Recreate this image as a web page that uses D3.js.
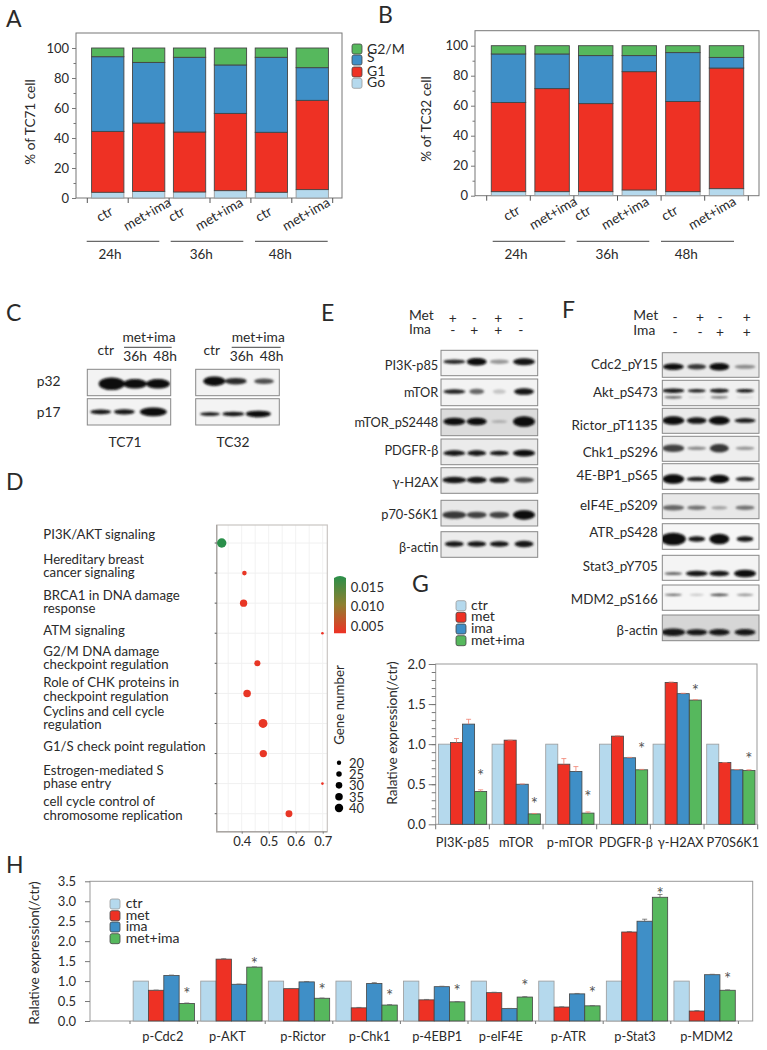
<!DOCTYPE html>
<html><head><meta charset="utf-8">
<style>
html,body{margin:0;padding:0;background:#fff}
svg{display:block}
text{font-family:"Lato",sans-serif;fill:#2a2a2a}
.domain{display:none}
.tick line{stroke:#777;stroke-width:1}
.tick text{font-family:"Lato",sans-serif}
</style>
<script src="https://cdnjs.cloudflare.com/ajax/libs/d3/7.8.5/d3.min.js"></script>
</head><body><div id="c"></div>
<script>
// ---------- DATA ----------
const phases = ["Go","G1","S","G2/M"];
const stackCats = ["ctr","met+ima","ctr","met+ima","ctr","met+ima"];
const hours = ["24h","36h","48h"];
const tc71Go  = [3.8,4.4,4.0,4.9,3.8,5.6];
const tc71G1  = [40.6,45.6,40.0,51.5,40.0,59.5];
const tc71S   = [49.8,40.4,49.8,32.3,50.0,21.8];
const tc71G2M = [5.8,9.6,6.2,11.3,6.2,13.1];
const tc32Go  = [2.7,2.7,2.7,3.8,2.7,4.7];
const tc32G1  = [59.4,68.7,58.7,78.9,60.1,80.4];
const tc32S   = [32.4,23.1,32.0,10.7,32.6,7.1];
const tc32G2M = [5.5,5.5,6.6,6.6,4.6,7.8];

const treatments = ["ctr","met","ima","met+ima"];
const gCats = ["PI3K-p85","mTOR","p-mTOR","PDGFR-β","γ-H2AX","P70S6K1"];
const gCtr = [1,1,1,1,1,1];
const gMet = [1.02,1.05,0.75,1.10,1.77,0.77];
const gIma = [1.25,0.50,0.66,0.83,1.63,0.68];
const gCombo = [0.41,0.13,0.14,0.68,1.55,0.67];
const gErrMet = [0.05,0,0.07,0.005,0.005,0];
const gErrIma = [0.06,0.003,0.06,0.005,0.005,0.003];
const gErrCombo = [0.02,0.005,0.015,0.005,0.005,0.01];
const gStar = [0.636,0.295,0.378,0.973,1.70,0.856];

const hCats = ["p-Cdc2","p-AKT","p-Rictor","p-Chk1","p-4EBP1","p-eIF4E","p-ATR","p-Stat3","p-MDM2"];
const hCtr = [1,1,1,1,1,1,1,1,1];
const hMet = [0.77,1.55,0.81,0.33,0.53,0.71,0.35,2.23,0.25];
const hIma = [1.14,0.92,0.98,0.94,0.86,0.31,0.68,2.50,1.16];
const hCombo = [0.44,1.35,0.57,0.40,0.48,0.60,0.38,3.10,0.77];
const hErrMet = [0.005,0.01,0.005,0.01,0.01,0.01,0.005,0.01,0.01];
const hErrIma = [0.01,0.005,0.01,0.02,0.01,0.005,0.01,0.05,0.01];
const hErrCombo = [0.01,0.005,0.005,0.01,0.005,0.01,0.005,0.07,0.01];
const hStar = [0.75,1.51,0.86,0.71,0.825,0.95,0.77,3.26,1.13];

const pathways = ["PI3K/AKT signaling","Hereditary breast cancer signaling","BRCA1 in DNA damage response","ATM signaling","G2/M DNA damage checkpoint regulation","Role of CHK proteins in checkpoint regulation","Cyclins and cell cycle regulation","G1/S check point regulation","Estrogen-mediated S phase entry","cell cycle control of chromosome replication"];
const pathwayLines = [["PI3K/AKT signaling"],["Hereditary breast","cancer signaling"],["BRCA1 in DNA damage","response"],["ATM signaling"],["G2/M DNA damage","checkpoint regulation"],["Role of CHK proteins in","checkpoint regulation"],["Cyclins and cell cycle","regulation"],["G1/S check point regulation"],["Estrogen-mediated S","phase entry"],["cell cycle control of","chromosome replication"]];
const ratio = [0.326,0.41,0.407,0.699,0.458,0.42,0.479,0.48,0.699,0.575];
const geneN = [43,20,32,13,26,33,40,32,13,30];
const pvals = [0.0175,0.0035,0.0035,0.003,0.0035,0.0035,0.0035,0.0035,0.003,0.0035];
const geneLegend = [20,25,30,35,40];
const pLegend = [0.015,0.010,0.005];

// Blots: darkness, thickness (px), width (px) per lane
const eLabels = ["PI3K-p85","mTOR","mTOR_pS2448","PDGFR-β","γ-H2AX","p70-S6K1","β-actin"];
const eDark = [[.85,1,.4,.95],[.9,.6,.2,.95],[1,1,.3,1],[.95,.95,.95,1],[.95,.95,.9,.7],[.8,.75,.75,1],[.95,.95,.95,.95]];
const eThick = [[4,7,4,6.5],[4,5,4,6],[7,7,2.5,10],[5,5,4,6],[6,6,5.5,5],[7,6,6,9],[5,5,5,6]];
const eWide = [[20,18,17,20],[20,13,11,18],[20,18,14,20],[20,17,17,20],[22,18,18,18],[22,18,18,20],[17,17,17,17]];
const fLabels = ["Cdc2_pY15","Akt_pS473","Rictor_pT1135","Chk1_pS296","4E-BP1_pS65","eIF4E_pS209","ATR_pS428","Stat3_pY705","MDM2_pS166","β-actin"];
const fDark = [[1,.8,1,.45],[.95,.9,.9,.95],[1,.95,1,.95],[.75,.45,.8,.4],[1,.9,1,.85],[.6,.55,.35,.55],[1,.95,1,.95],[.6,.95,.95,1],[.6,.2,.7,.4],[.95,.95,.95,.95]];
const fThick = [[6,5,7,3.5],[4,3,4,3],[8,6,8,4],[7,3,8,3],[9,4,8,4],[5,4,3,4],[12,5,10,5],[2.5,5,5,7],[1.5,1.5,2,2],[7,5.5,6,6]];
const fWide = [[19,17,18,19],[20,16,17,16],[20,18,19,19],[20,17,17,17],[20,18,18,17],[20,17,14,17],[23,15,18,15],[16,20,18,20],[15,12,17,15],[22,19,19,19]];
const aktLower = [.6,.1,.5,.1];
const metMarksE = ["+","-","+","-"], imaMarksE = ["-","+","+","-"];
const metMarksF = ["-","+","-","+"], imaMarksF = ["-","-","+","+"];

// ---------- STYLE ----------
const colGo="#b5d9ed", colG1="#ee3124", colS="#3f8fc7", colG2="#56b85d";
const treatColors=[colGo,colG1,colS,colG2];
const strokeFor=c=>c===colGo?"#999":"#444";
const F=13.8, FT=13, FY=13.6;

const svg=d3.select("#c").append("svg").attr("width",767).attr("height",1050);
const defs=svg.append("defs");
defs.append("filter").attr("id","blur").attr("x","-30%").attr("y","-100%").attr("width","160%").attr("height","300%")
  .append("feGaussianBlur").attr("stdDeviation",0.9);

function txt(x,y,s,opt={}){
  const t=svg.append("text").attr("x",x).attr("y",y).text(s)
    .attr("font-size",opt.fs||F).attr("text-anchor",opt.anchor||"start");
  if(opt.rot!==undefined) t.attr("transform",`rotate(${opt.rot} ${x} ${y})`);
  return t;
}
// panel letters
[["A",6,27],["B",378,23],["C",6,321],["D",6,490],["E",321,321],["F",562,318],["G",412,592],["H",6,873]]
 .forEach(d=>txt(d[1],d[2],d[0],{fs:23}));

function yAxes(g,y,x0,major,minor,fmt,tl,tlm,pad,fs){
  g.append("g").attr("transform",`translate(${x0},0)`)
   .call(d3.axisLeft(y).tickValues(minor).tickSize(tlm).tickFormat(""));
  g.append("g").attr("transform",`translate(${x0},0)`)
   .call(d3.axisLeft(y).tickValues(major).tickSize(tl).tickPadding(pad).tickFormat(fmt))
   .selectAll("text").attr("font-size",fs).style("fill","#2a2a2a");
}

// ---------- STACKED PANELS ----------
function stacked(cfg){
  const g=svg.append("g");
  const rows=stackCats.map((c,i)=>({i,Go:cfg.vals[0][i],G1:cfg.vals[1][i],S:cfg.vals[2][i],"G2/M":cfg.vals[3][i]}));
  const series=d3.stack().keys(phases)(rows);
  const x=d3.scaleBand().domain(d3.range(stackCats.length)).range(cfg.xr).paddingInner(.21).paddingOuter(.105);
  const y=d3.scaleLinear().domain([0,110]).range([cfg.y0,cfg.yTop]);
  const col=d3.scaleOrdinal(phases,treatColors);
  g.append("rect").attr("x",cfg.fx[0]).attr("y",cfg.yTop).attr("width",cfg.fx[1]-cfg.fx[0]).attr("height",cfg.y0-cfg.yTop)
    .attr("fill","none").attr("stroke","#777").attr("stroke-width",1);
  yAxes(g,y,cfg.fx[0],d3.range(0,101,20),d3.range(10,100,20),d3.format("d"),4,2.5,3,FT);
  g.selectAll("g.s").data(series).join("g").attr("class","s")
   .attr("fill",d=>col(d.key)).attr("stroke",d=>strokeFor(col(d.key)))
   .selectAll("rect").data(d=>d).join("rect")
   .attr("x",d=>x(d.data.i)).attr("width",x.bandwidth())
   .attr("y",d=>y(d[1])).attr("height",d=>y(d[0])-y(d[1])).attr("stroke-width",.9);
  const step=x.step();
  const edges=d3.range(stackCats.length+1).map(i=>cfg.xr[0]+i*step);
  g.selectAll("line.tk").data(edges).join("line").attr("class","tk")
   .attr("x1",d=>d).attr("x2",d=>d).attr("y1",cfg.y0).attr("y2",cfg.y0+5).attr("stroke","#555");
  stackCats.forEach((c,i)=>{
    const p=cfg.catEnds[i];
    txt(p[0],p[1],c,{anchor:"end",rot:-30,fs:13.6});
  });
  hours.forEach((h,i)=>{
    const r=cfg.groupLines[i];
    g.append("line").attr("x1",r[0]).attr("x2",r[1]).attr("y1",241.3).attr("y2",241.3).attr("stroke","#444");
    txt(cfg.hourX[i],259,h,{anchor:"middle",fs:13.5});
  });
  txt(cfg.titleX,cfg.titleY,cfg.title,{anchor:"middle",rot:-90,fs:FY});
}
stacked({vals:[tc71Go,tc71G1,tc71S,tc71G2M],xr:[87.3,332.7],fx:[76,342],y0:198,yTop:33,title:"% of TC71 cell",titleX:35,titleY:122,
  catEnds:[[114,214],[172,205],[186,214],[244,205],[273,214],[331,205]],
  groupLines:[[86.7,159.3],[170.7,243.3],[255,327.7]],hourX:[110,201.3,280.3]});
stacked({vals:[tc32Go,tc32G1,tc32S,tc32G2M],xr:[486.7,748.3],fx:[475,759],y0:195.7,yTop:30.7,title:"% of TC32 cell",titleX:431,titleY:119,
  catEnds:[[521,213],[578,204],[592,213],[650,204],[679,213],[737,204]],
  groupLines:[[492.7,565.3],[576.7,649.3],[661,734]],hourX:[516,607,686.3]});

// phase legend
function legend(items,cols,sx,ys,tx,tys,fs){
  const g=svg.append("g");
  g.selectAll("rect").data(items).join("rect")
   .attr("x",sx).attr("y",(d,i)=>ys[i]-5).attr("width",10).attr("height",10).attr("rx",2)
   .attr("fill",(d,i)=>cols[i]).attr("stroke",(d,i)=>strokeFor(cols[i])).attr("stroke-width",.8);
  items.forEach((d,i)=>txt(tx,tys[i],d,{fs}));
}
legend(["G2/M","S","G1","Go"],[colG2,colS,colG1,colGo],352,[49,60,72,83.3],367,[53.5,62,75.5,87],14);

// ---------- BLOTS ----------
const bandCol=d3.scaleLinear().domain([0,1]).range(["#f4f4f4","#080808"]);
function blot(box,lanes,dark,thick,wide,yRel,bg){
  const g=svg.append("g");
  const clip="c"+Math.round(box[0])+"_"+Math.round(box[2]*10);
  defs.append("clipPath").attr("id",clip).append("rect").attr("x",box[0]).attr("y",box[2]).attr("width",box[1]-box[0]).attr("height",box[3]-box[2]);
  g.append("rect").attr("x",box[0]).attr("y",box[2]).attr("width",box[1]-box[0]).attr("height",box[3]-box[2])
    .attr("fill",bg||"#f3f3f3");
  const inner=g.append("g").attr("clip-path",`url(#${clip})`).attr("filter","url(#blur)");
  inner.selectAll("ellipse").data(dark).join("ellipse")
    .attr("cx",(d,i)=>lanes[i]).attr("cy",box[2]+(box[3]-box[2])*yRel)
    .attr("rx",(d,i)=>wide[i]/2+1).attr("ry",(d,i)=>thick[i]/2+.3).attr("fill",d=>bandCol(d));
  g.append("rect").attr("x",box[0]).attr("y",box[2]).attr("width",box[1]-box[0]).attr("height",box[3]-box[2])
    .attr("fill","none").attr("stroke","#888").attr("stroke-width",1);
}
// C
const cLanesA=[111.7,135,158], cLanesA2=[100.7,124.3,153.3], cLanesB=[214.3,235.7,264], cLanesB2=[210,233.3,258.3];
blot([87.3,170.7,369.3,395.7],cLanesA,[1,1,1],[12,9,9],[24,22,22],.55);
blot([87.3,170.7,398.7,425],cLanesA2,[.95,.95,1],[4,4.5,8],[19,19,25],.5);
blot([195.7,279.3,369.3,395.7],cLanesB,[1,.85,.7],[9,6,5],[20,20,18],.45);
blot([195.7,279.3,398.7,425],cLanesB2,[.95,.95,1],[3,4,6],[18,20,23],.58);
txt(36.7,386,"p32"); txt(36.7,417.3,"p17");
txt(149,341.7,"met+ima",{anchor:"middle"}); txt(258.3,341.7,"met+ima",{anchor:"middle"});
txt(135,361,"36h",{anchor:"middle"}); txt(165,361,"48h",{anchor:"middle"});
txt(241.7,361,"36h",{anchor:"middle"}); txt(271.7,361,"48h",{anchor:"middle"});
txt(105.7,355,"ctr",{anchor:"middle"}); txt(211.7,355,"ctr",{anchor:"middle"});
txt(125,447.3,"TC71",{anchor:"middle"}); txt(233,447.3,"TC32",{anchor:"middle"});
[[124,171.7],[231.7,280.7]].forEach(r=>svg.append("line").attr("x1",r[0]).attr("x2",r[1]).attr("y1",347.3).attr("y2",347.3).attr("stroke","#444"));
// E
const eLanes=[454.3,476.7,499.3,524];
const eBoxes=[[350.3,375.7],[379,405.7],[409,435.7],[439,464.7],[467.7,493.3],[500.3,526],[531.7,557.3]];
const eY=[.45,.47,.47,.55,.48,.57,.48], eBase=[370,397.3,427.3,455,486.7,519.3,551.7], eBg=[null,null,"#dcdcdc","#ebebeb","#ececec","#e8e8e8","#ececec"];
eLabels.forEach((l,i)=>{
  blot([441,537.7,eBoxes[i][0],eBoxes[i][1]],eLanes,eDark[i],eThick[i],eWide[i],eY[i],eBg[i]);
  txt(438.3,eBase[i],l,{anchor:"end",fs:12.8});
});
txt(409,320,"Met"); txt(409,334,"Ima");
const eM=[452.7,474.3,498.3,520.7];
metMarksE.forEach((m,i)=>txt(eM[i],323,m,{anchor:"middle"}));
imaMarksE.forEach((m,i)=>txt(eM[i],335,m,{anchor:"middle"}));
// F
const fLanes=[673.3,696.7,719.3,745];
const fBoxes=[[352.7,377.3],[380.3,405.7],[408.3,433.3],[436.3,461.3],[463.7,489.3],[493.7,518.7],[523.7,549.3],[555.3,580.3],[585,610.3],[615,640.7]];
const fY=[.57,.41,.49,.48,.6,.56,.6,.73,.39,.67], fBase=[369.3,397,430,457.3,480,510,536.7,570.7,604,635], fBg=["#eaeaea","#f0f0f0","#eaeaea","#eeeeee","#f4f4f4","#e8e8e8","#f6f6f6","#f4f4f4","#f6f6f6","#d6d6d6"];
fLabels.forEach((l,i)=>{
  blot([662.3,759,fBoxes[i][0],fBoxes[i][1]],fLanes,fDark[i],fThick[i],fWide[i],fY[i],fBg[i]);
  txt(657.7,fBase[i],l,{anchor:"end",fs:13.4});
});
// Akt lower band
svg.append("g").attr("filter","url(#blur)").selectAll("ellipse").data(aktLower).join("ellipse")
  .attr("cx",(d,i)=>fLanes[i]).attr("cy",397.3).attr("rx",9).attr("ry",1.4).attr("fill",d=>bandCol(d));
txt(633.3,320,"Met"); txt(633.3,335,"Ima");
const fM=[675,700,720,746.7];
metMarksF.forEach((m,i)=>txt(fM[i],322,m,{anchor:"middle"}));
imaMarksF.forEach((m,i)=>txt(fM[i],337,m,{anchor:"middle"}));

// ---------- DOT PLOT ----------
(function(){
  const g=svg.append("g");
  const x=d3.scaleLinear().domain([0.3074,0.717]).range([216.7,327.3]);
  const y=d3.scalePoint().domain(pathways).range([543,813.7]);
  const r=d3.scaleSqrt().domain([13,43]).range([1.3,4.7]);
  const cs=d3.scaleLinear().domain([0.003,0.0105,0.0175]).range(["#ee3124","#8f8030","#2a8f4a"]);
  const ticksX=[0.4,0.5,0.6,0.7];
  g.selectAll("line.gx").data(d3.range(0.35,0.71,0.05)).join("line").attr("class","gx")
   .attr("x1",d=>x(d)).attr("x2",d=>x(d)).attr("y1",525).attr("y2",831.7).attr("stroke","#f2f2f2");
  g.selectAll("line.gy").data(pathways).join("line").attr("class","gy")
   .attr("x1",216.7).attr("x2",327.3).attr("y1",d=>y(d)).attr("y2",d=>y(d)).attr("stroke","#f0f0f0");
  g.append("rect").attr("x",216.7).attr("y",525).attr("width",110.6).attr("height",306.7).attr("fill","none").attr("stroke","#c9c5c2").attr("stroke-width",1.2);
  g.append("path").attr("d","M216.7 525V831.7H327.3").attr("fill","none").attr("stroke","#aaa6a3").attr("stroke-width",1.4);
  g.selectAll("line.ty").data(pathways).join("line").attr("class","ty")
   .attr("x1",214.7).attr("x2",216.7).attr("y1",d=>y(d)).attr("y2",d=>y(d)).attr("stroke","#555");
  const ax=g.append("g").attr("transform","translate(0,831.7)").call(d3.axisBottom(x).tickValues(ticksX).tickSize(2).tickPadding(3).tickFormat(d3.format(".1f")));
  ax.selectAll("text").attr("font-size",FT).style("fill","#2a2a2a");
  g.selectAll("circle.p").data(pathways).join("circle").attr("class","p")
   .attr("cx",(d,i)=>x(ratio[i])).attr("cy",d=>y(d)).attr("r",(d,i)=>r(geneN[i])).attr("fill",(d,i)=>cs(pvals[i]));
  const baselines=[[539],[563.7,576.7],[600,613.3],[635.3],[656,669.3],[687,700.7],[715.7,729.3],[751],[775,788.3],[806,819.7]];
  pathwayLines.forEach((ls,i)=>ls.forEach((l,j)=>txt(43.3,baselines[i][j],l,{fs:13.2})));
  // colour bar
  const cbY=d3.scaleLinear().domain([0.005,0.015]).range([626,587.3]);
  const gr=defs.append("linearGradient").attr("id","cb").attr("x1",0).attr("x2",0).attr("y1",1).attr("y2",0);
  [0.003,0.0105,0.0175].forEach((v,i)=>gr.append("stop").attr("offset",i/2).attr("stop-color",cs(v)));
  g.append("path").attr("d","M334 633.3V578Q340 574 346 578V633.3Z").attr("fill","url(#cb)");
  pLegend.forEach(v=>txt(350.7,cbY(v)+4.6,d3.format(".3f")(v),{fs:FT}));
  txt(344,705,"Gene number",{anchor:"middle",rot:-90,fs:13.3});
  const ly=d3.scalePoint().domain(geneLegend).range([762.7,808]);
  g.selectAll("circle.l").data(geneLegend).join("circle").attr("class","l")
    .attr("cx",339).attr("cy",d=>ly(d)).attr("r",d=>r(d)*0.95).attr("fill","#000");
  geneLegend.forEach(v=>txt(349,ly(v)+5,String(v),{fs:FT}));
})();

// ---------- GROUPED BARS ----------
function grouped(c){
  const g=svg.append("g");
  const y=d3.scaleLinear().domain([0,c.max]).range([c.y0,c.yTop]);
  const x=d3.scaleBand().domain(c.cats).range(c.xr).paddingInner(c.pad).paddingOuter(c.pad/2);
  const sub=d3.scaleBand().domain(treatments).range([0,x.bandwidth()]);
  g.append("rect").attr("x",c.fx[0]).attr("y",c.yTop).attr("width",c.fx[1]-c.fx[0]).attr("height",c.y0-c.yTop)
    .attr("fill","none").attr("stroke","#999");
  yAxes(g,y,c.fx[0],c.major,c.minor,d3.format(".1f"),c.tl,c.tlm,c.tp,FT);
  treatments.forEach((t,k)=>{
    g.selectAll("rect.b"+k).data(c.cats).join("rect").attr("class","b"+k)
     .attr("x",d=>x(d)+sub(t)).attr("width",sub.bandwidth())
     .attr("y",(d,i)=>y(c.vals[k][i])).attr("height",(d,i)=>c.y0-y(c.vals[k][i]))
     .attr("fill",treatColors[k]).attr("stroke",strokeFor(treatColors[k])).attr("stroke-width",.8);
    if(c.errs[k]){
      const cx=d=>x(d)+sub(t)+sub.bandwidth()/2;
      g.selectAll("path.e"+k).data(c.cats).join("path").attr("class","e"+k)
       .attr("d",(d,i)=>{const v=c.vals[k][i],e=c.errs[k][i],yt=y(v+e),yb=y(v);
          return `M${cx(d)} ${yb}V${yt}M${cx(d)-2.5} ${yt}H${cx(d)+2.5}`;})
       .attr("fill","none").attr("stroke",c.errCol).attr("stroke-width",.8);
    }
  });
  const gx=c.cats.map((d,i)=>x(d)+sub("met+ima")+sub.bandwidth()/2);
  c.cats.forEach((d,i)=>{
    svg.append("text").attr("x",gx[i]).attr("y",y(c.star[i])+9).attr("text-anchor","middle").attr("font-size",17).style("fill","#555").text("*");
  });
  const edges=d3.range(c.cats.length+1).map(i=>c.xr[0]+i*x.step());
  g.selectAll("line.tk").data(edges).join("line").attr("class","tk")
   .attr("x1",d=>d).attr("x2",d=>d).attr("y1",c.y0).attr("y2",c.y0+c.xtl).attr("stroke","#777");
  c.cats.forEach((d,i)=>txt(x(d)+x.bandwidth()/2+c.nudge[i],c.labelY,d,{anchor:"middle",fs:12.8}));
}
grouped({cats:gCats,vals:[gCtr,gMet,gIma,gCombo],errs:[null,gErrMet,gErrIma,gErrCombo],errCol:"#f08070",star:gStar,
  max:2,y0:824.3,yTop:664,xr:[435.7,757.7],fx:[435.7,757],pad:.1,major:[0,.5,1,1.5,2],minor:d3.range(.1,2,.1).map(v=>+v.toFixed(1)),
  tl:7,tlm:4,tp:3,xtl:5,labelY:846.7,nudge:[0,0,0,2.5,3.5,2]});
grouped({cats:hCats,vals:[hCtr,hMet,hIma,hCombo],errs:[null,hErrMet,hErrIma,hErrCombo],errCol:"#666",star:hStar,
  max:3.5,y0:1021,yTop:881.3,xr:[130,738.4],fx:[90,752.7],pad:.0925,major:[0,.5,1,1.5,2,2.5,3,3.5],minor:[],
  tl:5,tlm:0,tp:9,xtl:3,labelY:1041,nudge:[-1,-4,4,3,3,-1,-1,-2,2]});
legend(treatments,treatColors,456,[605.7,617.3,629,640.7],471,[609.5,621,633,645],14);
legend(treatments,treatColors,110,[904,915.7,927,938.7],125.7,[908,920,931,943],14);
txt(397,733,"Ralative expression(/ctr)",{anchor:"middle",rot:-90,fs:FY});
txt(39,953,"Ralative expression(/ctr)",{anchor:"middle",rot:-90,fs:FY});
</script></body></html>
